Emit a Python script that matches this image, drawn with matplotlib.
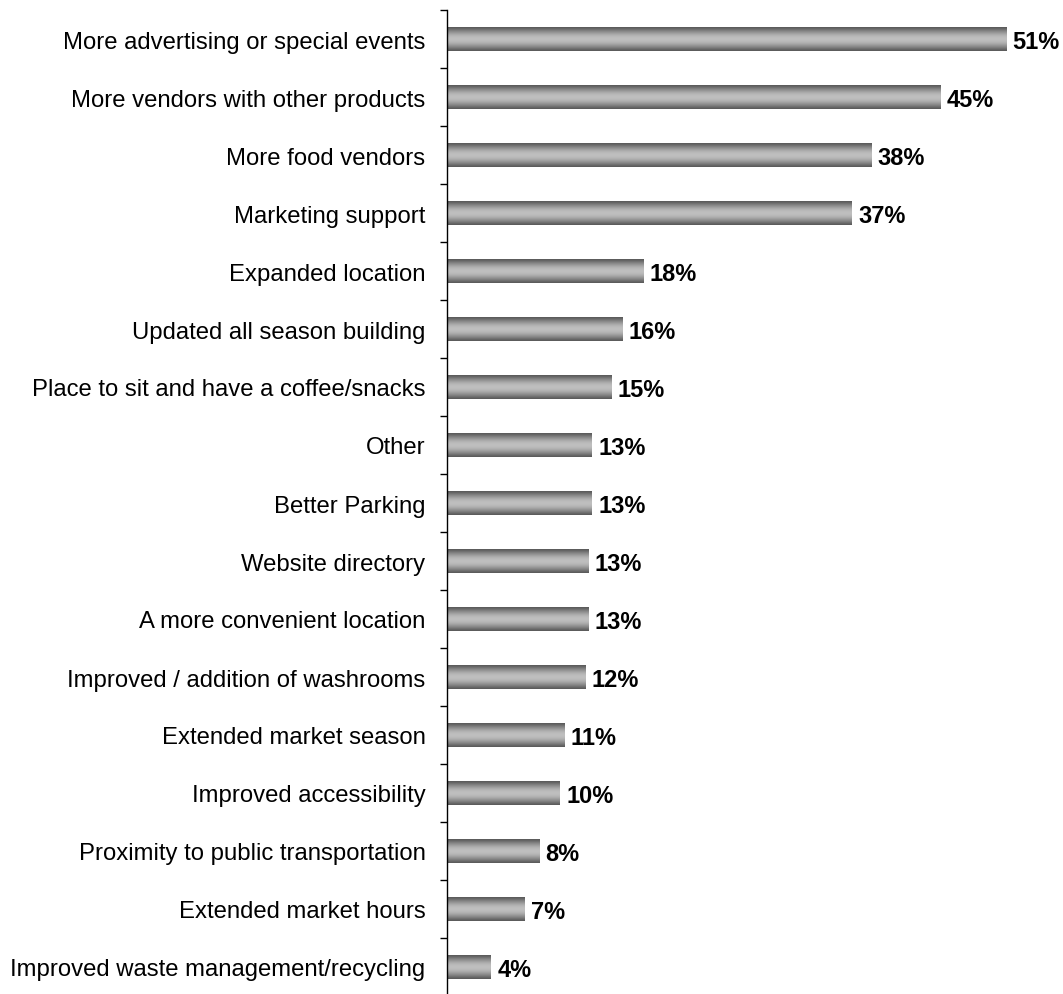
import numpy as np
import matplotlib
matplotlib.use("Agg")
import matplotlib.pyplot as plt

plt.rcParams['font.family'] = ['Liberation Sans', 'DejaVu Sans']

# Survey answers, top to bottom
categories = [
    "More advertising or special events",
    "More vendors with other products",
    "More food vendors",
    "Marketing support",
    "Expanded location",
    "Updated all season building",
    "Place to sit and have a coffee/snacks",
    "Other",
    "Better Parking",
    "Website directory",
    "A more convenient location",
    "Improved / addition of washrooms",
    "Extended market season",
    "Improved accessibility",
    "Proximity to public transportation",
    "Extended market hours",
    "Improved waste management/recycling",
]
# bar lengths (read off the picture, not rounded)
values = [51.0, 45.0, 38.7, 36.9, 17.9, 16.0, 15.0, 13.2, 13.2, 12.9, 12.9,
          12.6, 10.7, 10.3, 8.4, 7.1, 4.0]
value_labels = ["51%", "45%", "38%", "37%", "18%", "16%", "15%", "13%", "13%",
                "13%", "13%", "12%", "11%", "10%", "8%", "7%", "4%"]

fig = plt.figure(figsize=(10.63, 9.95), dpi=100)
ax = fig.add_axes([447 / 1063, -2 / 995, 1 - 447 / 1063, 986 / 995])

y = np.arange(len(categories))
bar_h = 0.4
bars = ax.barh(y, values, height=bar_h, color='none', edgecolor='none')

# vertical gradient: dark at the edges, light in the middle
t = np.linspace(0, 1, 64)
shade = 0.35 + 0.40 * np.sin(np.pi * t) ** 1.2
grad = np.dstack([shade, shade, shade])[0][:, None, :]
for b in bars:
    x0, y0 = b.get_x(), b.get_y()
    im = ax.imshow(grad, extent=[x0, x0 + b.get_width(), y0 + b.get_height(), y0],
                   aspect='auto', interpolation='bilinear', zorder=2)
    im.set_clip_path(b)

for yi, v, lab in zip(y, values, value_labels):
    ax.text(v + 0.6, yi, lab, ha='left', va='center_baseline', fontsize=17,
            fontweight='bold', color='black')

ax.set_xlim(0, 56.2)
ax.set_ylim(len(categories) - 0.5, -0.5)

ax.set_yticks(y)
ax.set_yticklabels(categories, fontsize=17.2, va='center_baseline')
ax.tick_params(axis='y', which='major', length=0, pad=15.5)
ax.set_yticks(np.arange(-0.5, len(categories), 1), minor=True)
ax.tick_params(axis='y', which='minor', length=5, width=1, color='black')
ax.set_xticks([])

for s in ['top', 'right', 'bottom']:
    ax.spines[s].set_visible(False)
ax.spines['left'].set_linewidth(1)
ax.spines['left'].set_color('black')

fig.savefig("out.png", dpi=100)
